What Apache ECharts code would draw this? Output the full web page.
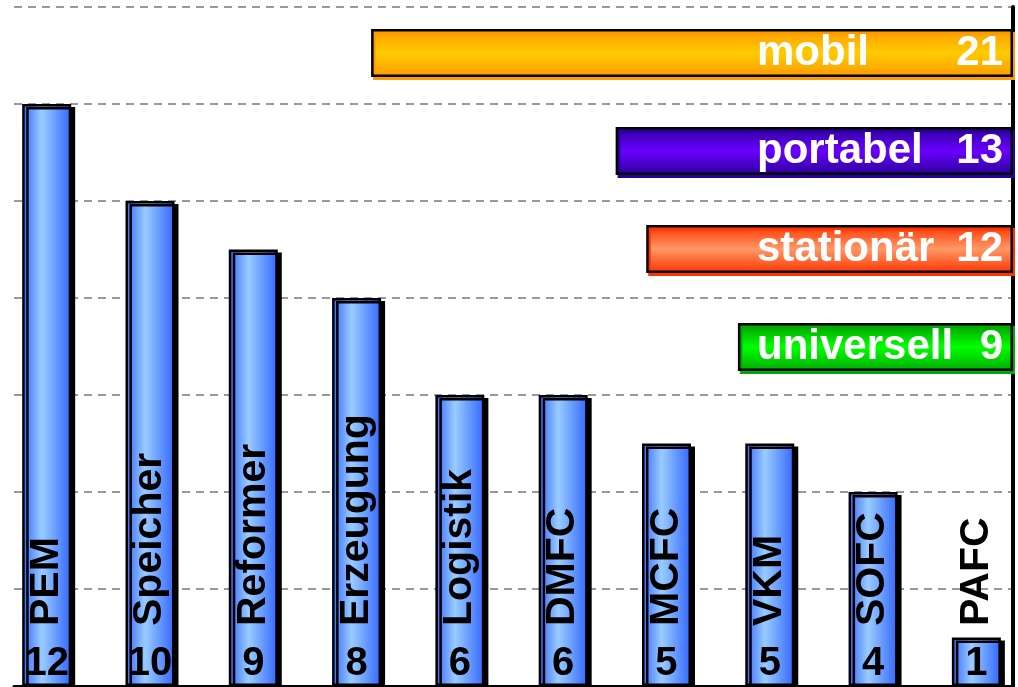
<!DOCTYPE html>
<html>
<head>
<meta charset="utf-8">
<script src="https://cdn.jsdelivr.net/npm/echarts@6/dist/echarts.min.js"></script>
<style>
html,body{margin:0;padding:0;background:#fff;}
#chart{width:1018px;height:687px;}
</style>
</head>
<body>
<div id="chart"></div>
<script>
// ---- data ----
var categories = ['PEM','Speicher','Reformer','Erzeugung','Logistik','DMFC','MCFC','VKM','SOFC','PAFC'];
var values = [12,10,9,8,6,6,5,5,4,1];
var segments = ['mobil','portabel','stationär','universell'];
var segmentValues = [21,13,12,9];
var yMin = 0, yMax = 14, yStep = 2;
var segMax = 30;

// ---- styles ----
var FONT = "'Liberation Sans', Arial, sans-serif";
function vGrad(edge, mid) {
  return new echarts.graphic.LinearGradient(0, 0, 1, 0, [
    {offset: 0, color: edge}, {offset: 0.4, color: mid}, {offset: 1, color: edge}
  ]);
}
function hGrad(edge, mid, edge2) {
  return new echarts.graphic.LinearGradient(0, 0, 0, 1, [
    {offset: 0, color: edge}, {offset: 0.5, color: mid}, {offset: 1, color: edge2}
  ]);
}
var segStyles = [
  {fill: hGrad('#FF9900', '#FFCC00', '#FF9900'), shadow: '#FF9900'},
  {fill: hGrad('#2A0099', '#6A00FF', '#2A0099'), shadow: '#2A0099'},
  {fill: hGrad('#FF3300', '#FF9966', '#FF3300'), shadow: '#FF3300'},
  {fill: hGrad('#009900', '#00FF00', '#00AA00'), shadow: '#00AA00'}
];

var segData = segmentValues.map(function (v, i) {
  return {
    value: v,
    itemStyle: {
      color: segStyles[i].fill,
      borderColor: '#000', borderWidth: 2.5,
      shadowColor: segStyles[i].shadow, shadowOffsetX: 2, shadowOffsetY: 3, shadowBlur: 0
    }
  };
});
// category index positions on a value axis (bar slots)
var barData = values.map(function (v, i) { return [i, v]; });

var chart = echarts.init(document.getElementById('chart'), null, {renderer: 'canvas'});
chart.setOption({
  animation: false,
  backgroundColor: '#fff',
  grid: [
    {left: 14, right: 5, top: 7, bottom: 1},      // frame + gridlines
    {left: 0, right: 0, top: 7, bottom: 1},       // vertical bars
    {left: 96, right: 5, top: 4, height: 392}     // horizontal bars
  ],
  xAxis: [
    {gridIndex: 0, type: 'value', min: 0, max: 1, show: true,
      axisLine: {show: true, onZero: false, lineStyle: {color: '#000', width: 3}},
      axisTick: {show: false}, axisLabel: {show: false}, splitLine: {show: false}},
    {gridIndex: 1, type: 'value', min: -0.452, max: 9.403, show: false},
    {gridIndex: 2, type: 'value', min: 0, max: segMax, inverse: true, show: false}
  ],
  yAxis: [
    {gridIndex: 0, type: 'value', min: yMin, max: yMax, interval: yStep, position: 'right',
      axisLine: {show: true, onZero: false, lineStyle: {color: '#000', width: 4}},
      axisTick: {show: false}, axisLabel: {show: false},
      splitLine: {show: true, lineStyle: {color: '#999', width: 2, type: [8, 6]}}},
    {gridIndex: 1, type: 'value', min: yMin, max: yMax, show: false},
    {gridIndex: 2, type: 'category', data: segments, inverse: true, show: false}
  ],
  series: [
    {type: 'line', xAxisIndex: 0, yAxisIndex: 0, data: [], silent: true},
    {
      type: 'bar', xAxisIndex: 1, yAxisIndex: 1, data: barData, barWidth: 49, z: 3,
      itemStyle: {
        color: vGrad('#3366FF', '#99CCFF'),
        borderColor: '#000', borderWidth: 2.5,
        shadowColor: '#000', shadowOffsetX: 4, shadowOffsetY: 3, shadowBlur: 0
      },
      label: {show: true, position: 'insideBottom', distance: 2,
        formatter: function (p) { return values[p.dataIndex]; },
        fontFamily: FONT, fontWeight: 'bold', fontSize: 40, color: '#000'}
    },
    {
      type: 'bar', xAxisIndex: 1, yAxisIndex: 1, data: barData, barWidth: 49, barGap: '-100%', z: 4,
      itemStyle: {color: 'rgba(0,0,0,0)'},
      label: {show: true, position: 'insideBottom', distance: 60, rotate: 90,
        align: 'left', verticalAlign: 'middle',
        formatter: function (p) { return categories[p.dataIndex]; },
        fontFamily: FONT, fontWeight: 'bold', fontSize: 41, color: '#000'}
    },
    {
      type: 'bar', xAxisIndex: 2, yAxisIndex: 2, data: segData, barWidth: 48, z: 5,
      label: {show: true, position: 'insideRight', distance: 10,
        formatter: function (p) { return '{n|' + segments[p.dataIndex] + '}{v|' + segmentValues[p.dataIndex] + '}'; },
        rich: {
          n: {width: 196, align: 'left', fontFamily: FONT, fontWeight: 'bold', fontSize: 42, color: '#fff'},
          v: {width: 50, align: 'right', fontFamily: FONT, fontWeight: 'bold', fontSize: 42, color: '#fff'}
        }}
    }
  ]
});
</script>
</body>
</html>
